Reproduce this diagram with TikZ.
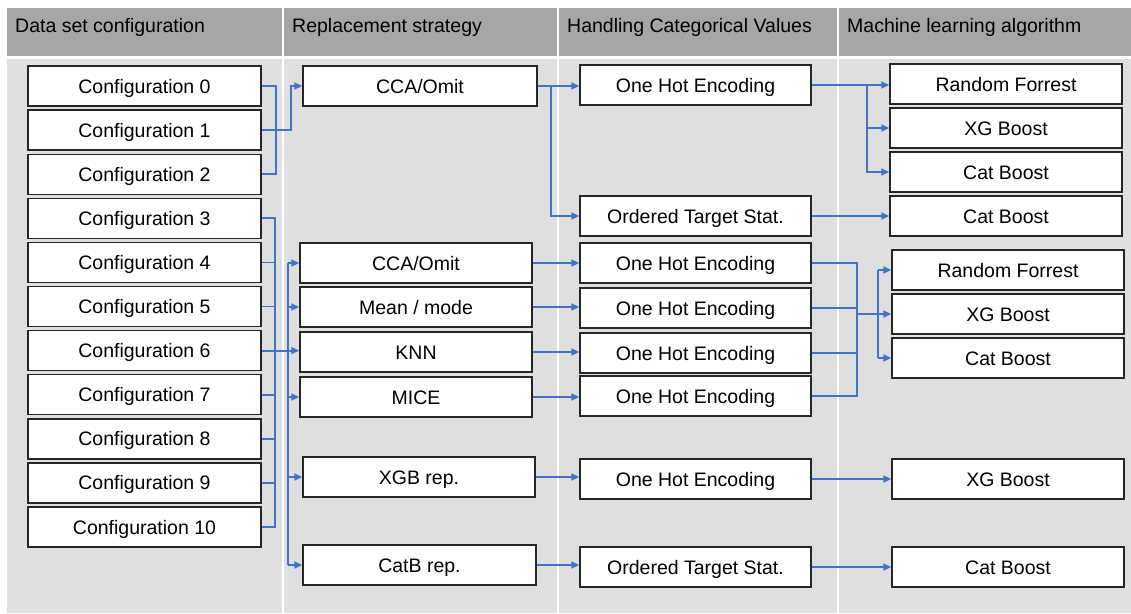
\documentclass[tikz,border=0pt]{standalone}
\usepackage{fontspec}
\setmainfont{Liberation Sans}
\usetikzlibrary{arrows.meta}
\definecolor{hdr}{HTML}{A6A6A6}
\definecolor{bodybg}{HTML}{DFDFDF}
\definecolor{connc}{HTML}{4472C4}
\definecolor{boxline}{HTML}{262626}
\begin{document}
\begin{tikzpicture}[x=1pt,y=-1pt,
  box/.style={draw=boxline, line width=1.4pt, fill=white, minimum height=40pt, inner sep=0pt, text height=14pt, text depth=0pt, font=\fontsize{19.5}{23}\selectfont},
  wA/.style={box, minimum width=233pt},
  wB/.style={box, minimum width=232pt},
  wC/.style={box, minimum width=231pt},
  hdrtext/.style={anchor=base west, inner sep=0pt, font=\fontsize{19.5}{23}\selectfont},
  conn/.style={draw=connc, line width=1.8pt},
  arr/.style={conn, -{Triangle[length=8pt,width=7pt]}}
]
\useasboundingbox (0,0) rectangle (1131,613);
% backgrounds
\fill[hdr] (7,8) rectangle (1131,56);
\fill[bodybg] (7,59) rectangle (1131,613);
\foreach \xx in {283,558,838} \draw[white, line width=2pt] (\xx,8) -- (\xx,613);
% headers
\node[hdrtext] (h1) at (15,32) {Data set configuration};
\node[hdrtext] (h2) at (292,32) {Replacement strategy};
\node[hdrtext] (h3) at (567,32) {Handling Categorical Values};
\node[hdrtext] (h4) at (847,32) {Machine learning algorithm};
% column 1
\foreach \i in {0,...,10} {
  \node[wA] (c\i) at (144.5,{86+44.1*\i}) {Configuration \i};
}
% column 2
\node[box, minimum width=234pt] (cca1) at (420,86) {CCA/Omit};
\node[wB] (cca2) at (416,263) {CCA/Omit};
\node[wB] (mean) at (416,307) {Mean / mode};
\node[wB] (knn) at (416,352) {KNN};
\node[wB] (mice) at (416,397) {MICE};
\node[wB] (xgbr) at (419,477) {XGB rep.};
\node[wA] (catb) at (419.5,565) {CatB rep.};
% column 3
\node[wC] (oh1) at (695.5,85) {One Hot Encoding};
\node[wC] (ots1) at (695.5,216) {Ordered Target Stat.};
\node[wC] (oh2) at (695.5,263) {One Hot Encoding};
\node[wC] (oh3) at (695.5,308) {One Hot Encoding};
\node[wC] (oh4) at (695.5,353) {One Hot Encoding};
\node[wC] (oh5) at (695.5,396) {One Hot Encoding};
\node[wC] (oh6) at (695.5,479) {One Hot Encoding};
\node[wC] (ots2) at (695.5,567) {Ordered Target Stat.};
% column 4
\node[wB] (rf1) at (1006,84) {Random Forrest};
\node[wB] (xg1) at (1006,128) {XG Boost};
\node[wB] (cb1) at (1006,172) {Cat Boost};
\node[wB] (cb2) at (1006,216) {Cat Boost};
\node[wB] (rf2) at (1008,270) {Random Forrest};
\node[wB] (xg2) at (1008,314) {XG Boost};
\node[wB] (cb3) at (1008,358) {Cat Boost};
\node[wB] (xg3) at (1008,479) {XG Boost};
\node[wB] (cb4) at (1008,567) {Cat Boost};
% bus coordinates
\coordinate (bA) at (276,0);
\coordinate (jA) at (291,86);
\coordinate (bB) at (275,0);
\coordinate (bC) at (288,0);
\coordinate (bD) at (551,0);
\coordinate (bE) at (867,0);
\coordinate (bF) at (857,0);
\coordinate (bG) at (878,0);
% group A
\draw[conn] (c0.east) -| (bA |- c2.east) -- (c2.east);
\draw[arr] (c1.east) -| (jA) -- (cca1.west);
% group B
\draw[conn] (c3.east) -| (bB |- c10.east) -- (c10.east);
\foreach \i in {4,5,7,8,9} \draw[conn] (c\i.east) -- (c\i.east -| bB);
\draw[arr] (c6.east) -- (knn.west |- c6.east);
\draw[conn] (bC |- cca2.west) -- (bC |- catb.west);
\foreach \n in {cca2,mean,mice,xgbr,catb} \draw[arr] (bC |- \n.west) -- (\n.west);
% column 2 -> 3
\draw[arr] (cca1.east) -- (oh1.west |- cca1.east);
\draw[arr] (cca1.east -| bD) |- (ots1.west);
\draw[arr] (cca2.east) -- (oh2.west |- cca2.east);
\draw[arr] (mean.east) -- (oh3.west |- mean.east);
\draw[arr] (knn.east) -- (oh4.west |- knn.east);
\draw[arr] (mice.east) -- (oh5.west |- mice.east);
\draw[arr] (xgbr.east) -- (oh6.west |- xgbr.east);
\draw[arr] (catb.east) -- (ots2.west |- catb.east);
% column 3 -> 4
\draw[arr] (oh1.east) -- (rf1.west |- oh1.east);
\draw[arr] (oh1.east -| bE) |- (xg1.west);
\draw[arr] (oh1.east -| bE) |- (cb1.west);
\draw[arr] (ots1.east) -- (cb2.west |- ots1.east);
\draw[conn] (oh2.east) -| (bF |- oh5.east) -- (oh5.east);
\draw[conn] (oh3.east) -- (oh3.east -| bF);
\draw[conn] (oh4.east) -- (oh4.east -| bF);
\draw[arr] (bF |- xg2.west) -- (xg2.west);
\draw[conn] (bG |- rf2.west) -- (bG |- cb3.west);
\draw[arr] (bG |- rf2.west) -- (rf2.west);
\draw[arr] (bG |- cb3.west) -- (cb3.west);
\draw[arr] (oh6.east) -- (xg3.west |- oh6.east);
\draw[arr] (ots2.east) -- (cb4.west |- ots2.east);
\end{tikzpicture}
\end{document}
